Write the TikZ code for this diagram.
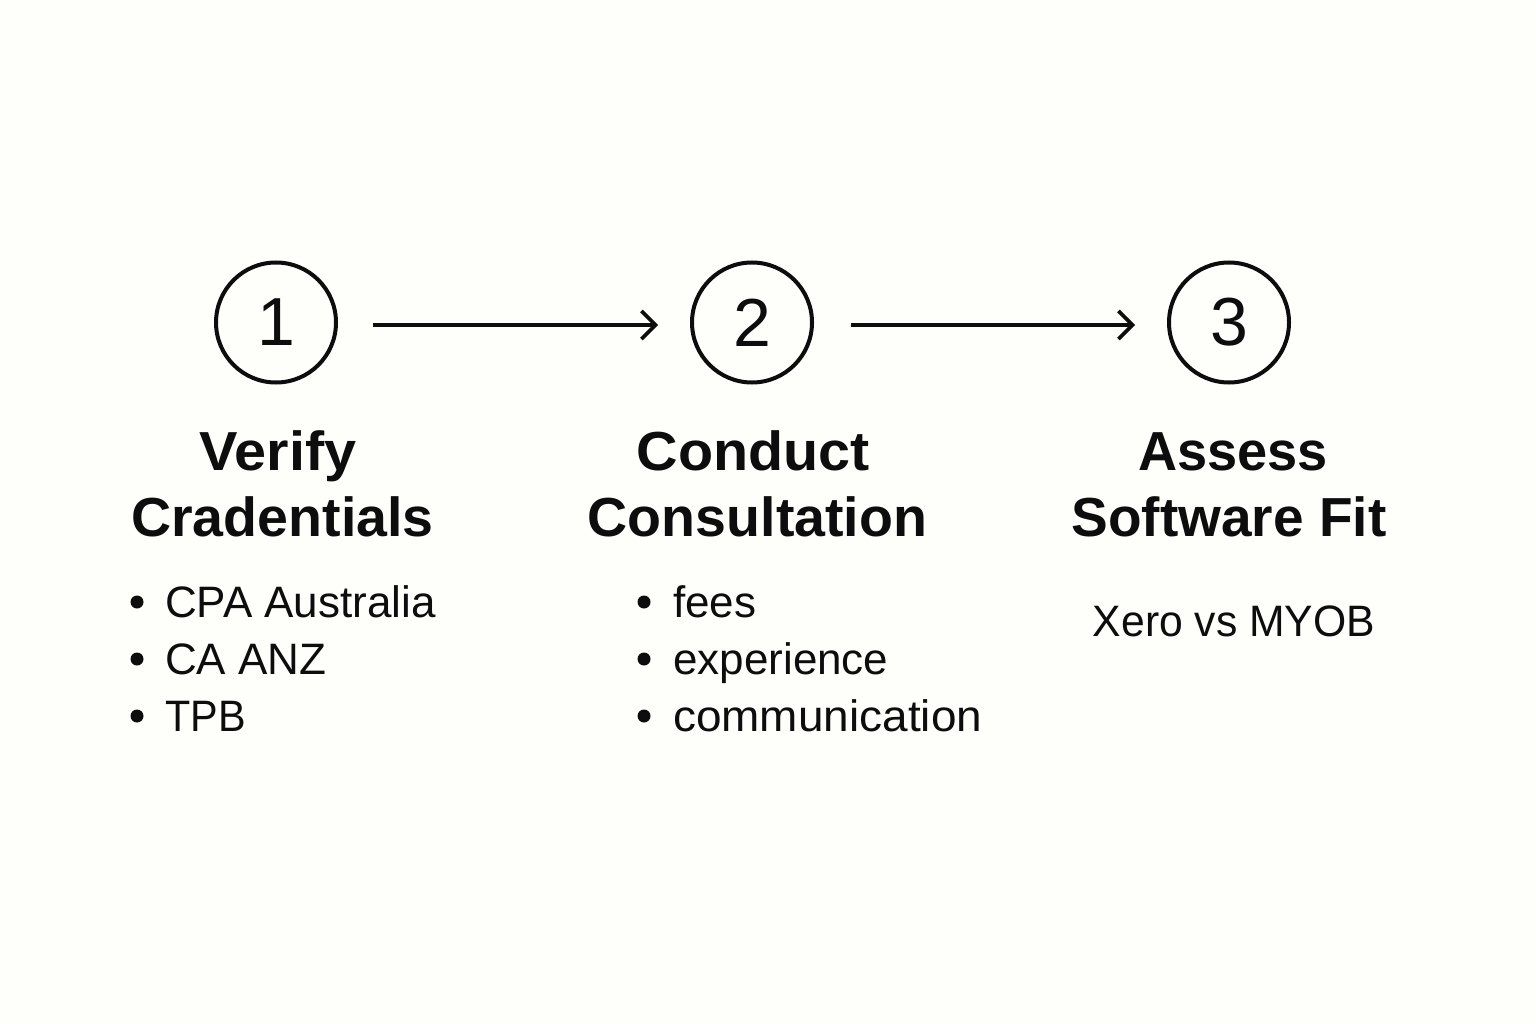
\documentclass[tikz,border=0pt]{standalone}
\usepackage{fontspec}
\usepackage{graphicx}
\setmainfont{Liberation Sans}
\usetikzlibrary{arrows.meta}
\definecolor{bg}{HTML}{FEFEFA}
\definecolor{ink}{HTML}{0D0D0D}
\newcommand{\hs}[2]{\scalebox{#1}[1]{#2}}
\tikzset{x=1pt,y=-1pt,
 circ/.style={circle,draw=ink,line width=4pt,minimum size=120pt,inner sep=0pt,font=\fontsize{68}{68}\selectfont,text=ink},
 conn/.style={draw=ink,line width=3.6pt,-{Straight Barb[length=14pt,width=28pt,line width=3.6pt]}},
 head/.style={font=\fontsize{55}{55}\selectfont\bfseries,text=ink,anchor=base,inner sep=0pt},
 body/.style={font=\fontsize{44}{44}\selectfont,text=ink,anchor=base west,inner sep=0pt},
 dot/.style={circle,fill=ink,minimum size=13pt,inner sep=0pt}}
\begin{document}
\begin{tikzpicture}
\path[fill=bg] (0,0) rectangle (1536,1024);
\useasboundingbox (0,0) rectangle (1536,1024);
\node[circ] (c1) at (276,322.5) {1};
\node[circ] (c2) at (752,322.5) {2};
\node[circ] (c3) at (1229,322.5) {3};
\coordinate (a1s) at (373,325); \coordinate (a1e) at (658,325);
\coordinate (a2s) at (851,325); \coordinate (a2e) at (1135,325);
\draw[conn] (a1s) -- (a1e);
\draw[conn] (a2s) -- (a2e);
\node[head] (h1a) at (278,470) {\hs{1.047}{Verify}};
\node[head] (h1b) at (282.5,536) {\hs{1.01}{Cradentials}};
\node[head] (h2a) at (753.5,470) {\hs{1.045}{Conduct}};
\node[head] (h2b) at (757.5,536) {\hs{1.01}{Consultation}};
\node[head] (h3a) at (1233,470) {\hs{0.985}{Assess}};
\node[head] (h3b) at (1229,536) {Software Fit};
\node[dot] (d11) at (137,602) {};
\node[dot] (d12) at (137,659) {};
\node[dot] (d13) at (137,716) {};
\node[body] (t11) at (165,617) {CPA Australia};
\node[body] (t12) at (165,674) {CA ANZ};
\node[body] (t13) at (165,731) {\hs{0.94}{TPB}};
\node[dot] (d21) at (644,602) {};
\node[dot] (d22) at (644,659) {};
\node[dot] (d23) at (644,716) {};
\node[body] (t21) at (673,617) {fees};
\node[body] (t22) at (673,674) {experience};
\node[body] (t23) at (673,731) {\hs{1.044}{communication}};
\node[body,anchor=base] (t31) at (1234,636) {\hs{0.97}{Xero vs MYOB}};
\end{tikzpicture}
\end{document}
